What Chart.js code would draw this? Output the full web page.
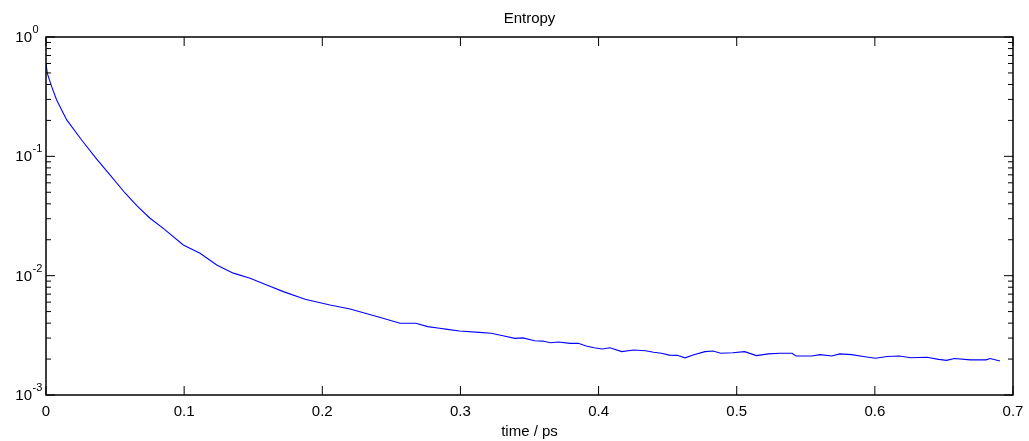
<!DOCTYPE html>
<html>
<head>
<meta charset="utf-8">
<title>Entropy</title>
<script src="https://cdn.jsdelivr.net/npm/chart.js@4.4.1/dist/chart.umd.min.js"></script>
<style>
  html, body { margin: 0; padding: 0; background: #fff; }
  #wrap { width: 1029px; height: 441px; }
</style>
</head>
<body>
<div id="wrap"><canvas id="entropyChart" width="1029" height="441"></canvas></div>
<script>
// --- data ---
const timePs = [
  0, 0.0009, 0.0041, 0.0077, 0.0150, 0.0258, 0.0367, 0.0463, 0.0572, 0.0659,
  0.0753, 0.0849, 0.0994, 0.1115, 0.1236, 0.1356, 0.1477, 0.1598, 0.1718, 0.1875,
  0.2056, 0.2201, 0.2382, 0.2563, 0.2677, 0.2763, 0.2849, 0.2906, 0.2993, 0.3136,
  0.3222, 0.3308, 0.3394, 0.3452, 0.3538, 0.3595, 0.3652, 0.3709, 0.3795, 0.3853,
  0.3910, 0.3968, 0.4025, 0.4082, 0.4168, 0.4254, 0.4340, 0.4398, 0.4455, 0.4512,
  0.4569, 0.4626, 0.4684, 0.4770, 0.4828, 0.4885, 0.4971, 0.5057, 0.5143, 0.5229,
  0.5315, 0.5401, 0.5429, 0.5544, 0.5602, 0.5688, 0.5745, 0.5831, 0.5917, 0.6003,
  0.6089, 0.6175, 0.6261, 0.6376, 0.6462, 0.6519, 0.6576, 0.6691, 0.6805, 0.6834,
  0.6906
];
const entropy = [
  0.602, 0.498, 0.384, 0.297, 0.202, 0.137, 0.0946, 0.0698, 0.0493, 0.0384,
  0.0303, 0.0249, 0.0181, 0.0154, 0.0123, 0.0105, 0.0095, 0.00836, 0.00735, 0.00634,
  0.00567, 0.00526, 0.00459, 0.00399, 0.00399, 0.00374, 0.00362, 0.00355, 0.00344, 0.00335,
  0.00329, 0.00314, 0.00298, 0.00301, 0.00285, 0.00283, 0.00274, 0.00278, 0.00271, 0.00271,
  0.00257, 0.00249, 0.00243, 0.00249, 0.00231, 0.00238, 0.00235, 0.00228, 0.00224, 0.00216,
  0.00215, 0.00205, 0.00216, 0.00231, 0.00234, 0.00224, 0.00226, 0.00231, 0.00214, 0.00221,
  0.00224, 0.00224, 0.00212, 0.00212, 0.00218, 0.00212, 0.00221, 0.00218, 0.00210, 0.00203,
  0.00210, 0.00212, 0.00205, 0.00207, 0.00199, 0.00195, 0.00202, 0.00197, 0.00197, 0.00202,
  0.00193
];
const xTicks = [0, 0.1, 0.2, 0.3, 0.4, 0.5, 0.6, 0.7];
const xTickLabels = ['0', '0.1', '0.2', '0.3', '0.4', '0.5', '0.6', '0.7'];
const yDecades = [-3, -2, -1, 0];

const FONT = '"Liberation Sans", Arial, Helvetica, sans-serif';

// matlab style box, inward ticks, tick labels and x label
const axesBox = {
  id: 'axesBox',
  afterDraw(chart) {
    const { ctx, chartArea: a, scales: { x, y } } = chart;
    const seg = (x1, y1, x2, y2) => { ctx.beginPath(); ctx.moveTo(x1, y1); ctx.lineTo(x2, y2); ctx.stroke(); };
    ctx.save();
    ctx.strokeStyle = '#000';
    ctx.fillStyle = '#000';
    ctx.lineWidth = 1.5;
    ctx.strokeRect(a.left, a.top, a.right - a.left, a.bottom - a.top);
    ctx.lineWidth = 1;

    ctx.font = '15px ' + FONT;
    ctx.textAlign = 'center';
    ctx.textBaseline = 'middle';
    xTicks.forEach((v, i) => {
      const px = x.getPixelForValue(v);
      seg(px, a.bottom, px, a.bottom - 9);
      seg(px, a.top, px, a.top + 9);
      ctx.fillText(xTickLabels[i], px, a.bottom + 16.5);
    });
    ctx.fillText('time / ps', (a.left + a.right) / 2, a.bottom + 37);

    yDecades.forEach((d, i) => {
      const base = Math.pow(10, d);
      const py = y.getPixelForValue(base);
      seg(a.left, py, a.left + 9, py);
      seg(a.right, py, a.right - 9, py);
      if (i < yDecades.length - 1) {
        for (let m = 2; m <= 9; m++) {
          const pm = y.getPixelForValue(m * base);
          seg(a.left, pm, a.left + 5, pm);
          seg(a.right, pm, a.right - 5, pm);
        }
      }
      ctx.font = '15px ' + FONT;
      ctx.textAlign = 'right';
      ctx.fillText('10', 32, py + 1);
      ctx.font = '11px ' + FONT;
      ctx.textAlign = 'left';
      ctx.fillText(String(d), 32.5, py - 7);
    });
    ctx.restore();
  }
};

const ctx = document.getElementById('entropyChart').getContext('2d');
new Chart(ctx, {
  type: 'line',
  data: {
    datasets: [{
      label: 'Entropy',
      data: timePs.map((t, i) => ({ x: t, y: entropy[i] })),
      borderColor: '#0000ff',
      borderWidth: 1.1,
      pointRadius: 0,
      tension: 0,
      fill: false
    }]
  },
  options: {
    responsive: false,
    animation: false,
    layout: { padding: { left: 46, right: 16, top: 0, bottom: 46 } },
    plugins: {
      legend: { display: false },
      tooltip: { enabled: false },
      title: {
        display: true,
        text: 'Entropy',
        color: '#000',
        font: { family: FONT, size: 15, weight: 'normal' },
        padding: { top: 10, bottom: 9 }
      }
    },
    scales: {
      x: { type: 'linear', display: false, min: 0, max: 0.7 },
      y: { type: 'logarithmic', display: false, min: 0.001, max: 1 }
    }
  },
  plugins: [axesBox]
});
</script>
</body>
</html>
